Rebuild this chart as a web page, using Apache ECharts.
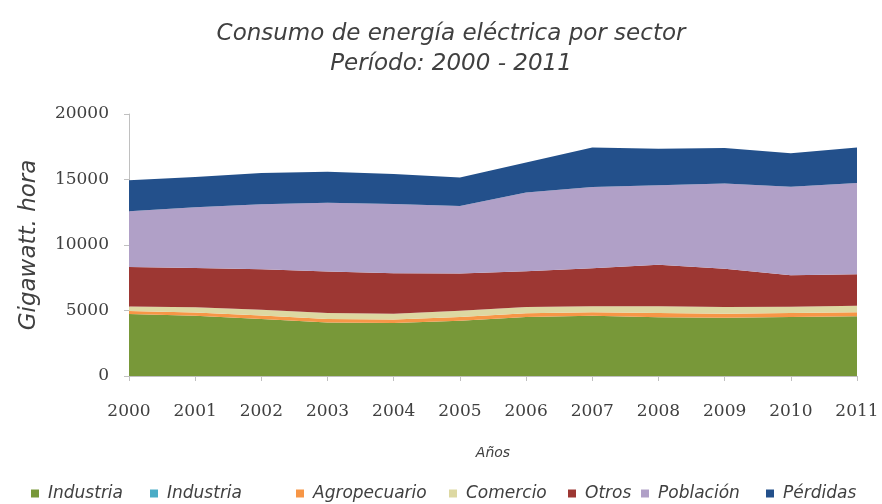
<!DOCTYPE html>
<html>
<head>
<meta charset="utf-8">
<script src="https://cdn.jsdelivr.net/npm/echarts@6/dist/echarts.min.js"></script>
<style>
  html, body { margin: 0; padding: 0; background: #ffffff; }
  #chart { width: 882px; height: 504px; }
</style>
</head>
<body>
<div id="chart"></div>
<script>
// Electricity consumption by sector (GWh), 2000-2011
const years = ['2000', '2001', '2002', '2003', '2004', '2005', '2006', '2007', '2008', '2009', '2010', '2011'];
const industria    = [4730, 4600, 4350, 4080, 4050, 4220, 4500, 4590, 4480, 4450, 4500, 4560];
const industria2   = [0, 0, 0, 0, 0, 0, 0, 0, 0, 0, 0, 0];
const agropecuario = [230, 250, 270, 280, 270, 290, 290, 280, 320, 310, 300, 310];
const comercio     = [340, 400, 440, 440, 440, 470, 470, 450, 530, 510, 490, 500];
const otros        = [3030, 2990, 3090, 3180, 3090, 2840, 2740, 2900, 3170, 2910, 2400, 2390];
const poblacion    = [4250, 4640, 4960, 5250, 5280, 5160, 6000, 6200, 6060, 6510, 6760, 6980];
const perdidas     = [2370, 2320, 2390, 2370, 2290, 2170, 2300, 3030, 2790, 2710, 2550, 2710];
const yTicks = [0, 5000, 10000, 15000, 20000];

const seriesNames = ['Industria #1', 'Industria #2', 'Agropecuario', 'Comercio', 'Otros', 'Población', 'Pérdidas'];
const seriesData = [industria, industria2, agropecuario, comercio, otros, poblacion, perdidas];
const colors = ['#789839', '#4bacc6', '#f79646', '#ddd8a2', '#9d3733', '#b0a0c7', '#23508b'];
const legendLeft = [26, 145, 291, 444, 563, 636, 761];

const chart = echarts.init(document.getElementById('chart'), null, { renderer: 'canvas' });

const sansItalic = { fontFamily: 'DejaVu Sans', fontStyle: 'italic', color: '#404040' };

const option = {
  animation: false,
  backgroundColor: '#ffffff',
  title: {
    text: 'Consumo de energía eléctrica por sector\nPeríodo: 2000 - 2011',
    left: 446,
    textAlign: 'center',
    top: 14,
    textStyle: Object.assign({ fontSize: 23, fontWeight: 'normal', lineHeight: 30 }, sansItalic)
  },
  legend: seriesNames.map((name, i) => ({
    data: [name],
    left: legendLeft[i],
    top: 480,
    icon: 'rect',
    itemWidth: 8,
    itemHeight: 8,
    selectedMode: false,
    formatter: n => n.replace(/ #\d$/, ''),
    textStyle: Object.assign({ fontSize: 17, padding: [0, 0, 0, 4] }, sansItalic)
  })),
  grid: { left: 129, right: 25, top: 114, bottom: 128 },
  xAxis: {
    type: 'category',
    data: years,
    boundaryGap: false,
    name: 'Años',
    nameLocation: 'middle',
    nameGap: 70,
    nameTextStyle: Object.assign({ fontSize: 14 }, sansItalic),
    axisLine: { lineStyle: { color: '#c0c0c0', width: 1 } },
    axisTick: { show: true, length: 5, lineStyle: { color: '#c0c0c0' } },
    axisLabel: { fontFamily: 'DejaVu Serif', fontSize: 17, color: '#404040', margin: 27 },
    splitLine: { show: false }
  },
  yAxis: {
    type: 'value',
    min: yTicks[0],
    max: yTicks[yTicks.length - 1],
    interval: yTicks[1] - yTicks[0],
    name: 'Gigawatt. hora',
    nameLocation: 'middle',
    nameRotate: 90,
    nameGap: 88,
    nameTextStyle: Object.assign({ fontSize: 23 }, sansItalic),
    axisLine: { show: true, lineStyle: { color: '#c0c0c0', width: 1 } },
    axisTick: { show: true, length: 5, lineStyle: { color: '#c0c0c0' } },
    axisLabel: {
      fontFamily: 'DejaVu Serif', fontSize: 17, color: '#404040', margin: 20,
      formatter: v => String(v)
    },
    splitLine: { show: false }
  },
  series: seriesNames.map((name, i) => ({
    name: name,
    type: 'line',
    stack: 'total',
    data: seriesData[i],
    color: colors[i],
    symbol: 'none',
    lineStyle: { width: 0 },
    areaStyle: { color: colors[i], opacity: 1 },
    emphasis: { disabled: true }
  }))
};

chart.setOption(option);
</script>
</body>
</html>
